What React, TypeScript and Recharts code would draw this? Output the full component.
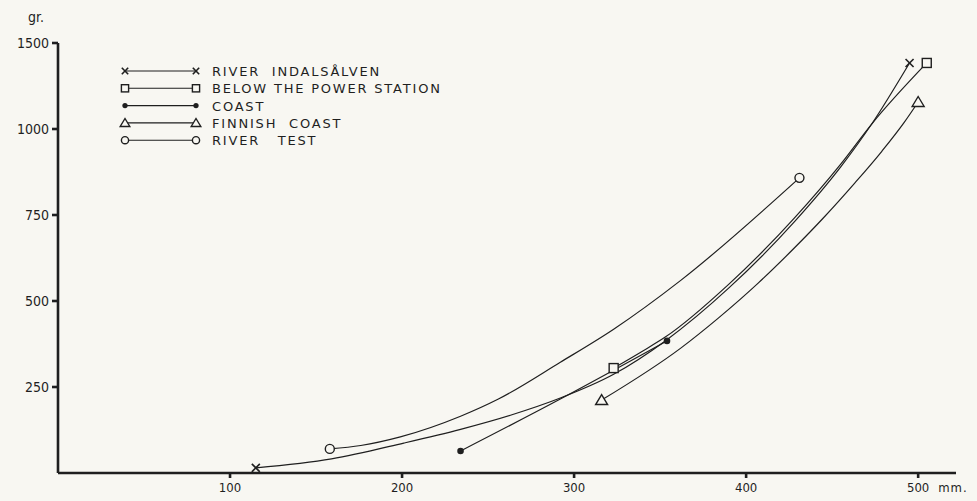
import { Line, LineChart, XAxis, YAxis } from 'recharts';

type Pt = { len: number; wt: number };
type MarkKind = 'cross' | 'square' | 'dot' | 'triangle' | 'circle';

// length in mm, weight in grams
const lengthTicks = [100, 200, 300, 400, 500];
const weightTicks = [250, 500, 750, 1000, 1500];

const riverIndalsalven: Pt[] = [
  { len: 115, wt: 15 },
  { len: 159, wt: 41 },
  { len: 201, wt: 87 },
  { len: 234, wt: 127 },
  { len: 263, wt: 168 },
  { len: 292, wt: 218 },
  { len: 323, wt: 287 },
  { len: 353, wt: 384 },
  { len: 390, wt: 538 },
  { len: 428, wt: 730 },
  { len: 455, wt: 890 },
  { len: 473, wt: 1029 },
  { len: 495, wt: 1384 },
];
const belowPowerStation: Pt[] = [
  { len: 323, wt: 305 },
  { len: 339, wt: 352 },
  { len: 353, wt: 395 },
  { len: 390, wt: 549 },
  { len: 428, wt: 741 },
  { len: 455, wt: 898 },
  { len: 473, wt: 1029 },
  { len: 505, wt: 1384 },
];
const coast: Pt[] = [
  { len: 234, wt: 64 },
  { len: 292, wt: 215 },
  { len: 354, wt: 384 },
];
const finnishCoast: Pt[] = [
  { len: 316, wt: 212 },
  { len: 362, wt: 363 },
  { len: 384, wt: 451 },
  { len: 407, wt: 552 },
  { len: 428, wt: 654 },
  { len: 445, wt: 742 },
  { len: 463, wt: 842 },
  { len: 479, wt: 936 },
  { len: 492, wt: 1040 },
  { len: 500, wt: 1157 },
];
const riverTest: Pt[] = [
  { len: 158, wt: 70 },
  { len: 176, wt: 80 },
  { len: 199, wt: 105 },
  { len: 234, wt: 165 },
  { len: 256, wt: 215 },
  { len: 292, wt: 322 },
  { len: 323, wt: 418 },
  { len: 362, wt: 560 },
  { len: 431, wt: 858 },
];

const series: { name: string; data: Pt[]; mark: MarkKind }[] = [
  { name: 'RIVER  INDALSÅLVEN', data: riverIndalsalven, mark: 'cross' },
  { name: 'BELOW THE POWER STATION', data: belowPowerStation, mark: 'square' },
  { name: 'COAST', data: coast, mark: 'dot' },
  { name: 'FINNISH  COAST', data: finnishCoast, mark: 'triangle' },
  { name: 'RIVER   TEST', data: riverTest, mark: 'circle' },
];

// the original axis is squeezed above 1000 g: 1000-1500 takes one 250-step
const toAxis = (g: number) => (g <= 1000 ? g : 1000 + (g - 1000) / 2);
const fromAxis = (v: number) => (v <= 1000 ? v : 1000 + (v - 1000) * 2);

const ink = '#1f1f1f';
const paper = '#f8f7f2';
const font = '"DejaVu Sans Condensed", "DejaVu Sans", sans-serif';

function Mark({ kind, x, y, s = 1 }: { kind: MarkKind; x: number; y: number; s?: number }) {
  switch (kind) {
    case 'cross':
      return (
        <g stroke={ink} strokeWidth={1.6}>
          <line x1={x - 4 * s} y1={y - 4 * s} x2={x + 4 * s} y2={y + 4 * s} />
          <line x1={x - 4 * s} y1={y + 4 * s} x2={x + 4 * s} y2={y - 4 * s} />
        </g>
      );
    case 'square':
      return <rect x={x - 4.5 * s} y={y - 4.5 * s} width={9 * s} height={9 * s} fill={paper} stroke={ink} strokeWidth={1.4} />;
    case 'dot':
      return <circle cx={x} cy={y} r={3.3 * s} fill={ink} />;
    case 'triangle':
      return (
        <path
          d={`M${x},${y - 5.5 * s} L${x + 6 * s},${y + 4.5 * s} L${x - 6 * s},${y + 4.5 * s} Z`}
          fill={paper}
          stroke={ink}
          strokeWidth={1.4}
        />
      );
    default:
      return <circle cx={x} cy={y} r={4.5 * s} fill={paper} stroke={ink} strokeWidth={1.4} />;
  }
}

function XTick(props: any) {
  const { x, y, payload } = props;
  return (
    <g>
      <text x={x} y={y + 12} textAnchor="middle" fontSize={13} fontFamily={font} fill={ink}>
        {payload.value}
      </text>
      {payload.value === 500 && (
        <text x={x + 20} y={y + 12} fontSize={13} fontFamily={font} fill={ink} letterSpacing={1}>
          mm.
        </text>
      )}
    </g>
  );
}

function LegendBox() {
  return (
    <svg width={380} height={100} style={{ position: 'absolute', left: 110, top: 60 }}>
      {series.map((s, i) => {
        const y = 11 + i * 17.3;
        return (
          <g key={s.name}>
            <line x1={15} y1={y} x2={86} y2={y} stroke={ink} strokeWidth={1.1} />
            <Mark kind={s.mark} x={15} y={y} s={0.8} />
            <Mark kind={s.mark} x={86} y={y} s={0.8} />
            <text x={102} y={y + 5} fontSize={13} fontFamily='"DejaVu Sans", sans-serif' fill={ink} letterSpacing={1.8} style={{ whiteSpace: 'pre' }}>
              {s.name}
            </text>
          </g>
        );
      })}
    </svg>
  );
}

export default function App() {
  return (
    <div style={{ position: 'absolute', left: 0, top: 0, width: 977, height: 501, background: paper }}>
      <LineChart width={977} height={501} margin={{ top: 43, right: 21, bottom: 0, left: 0 }}>
        <XAxis
          dataKey="len"
          type="number"
          domain={[0, 522]}
          ticks={lengthTicks}
          allowDataOverflow
          height={28}
          axisLine={{ stroke: ink, strokeWidth: 2.6 }}
          tickLine={{ stroke: ink, strokeWidth: 2.6 }}
          tickSize={5}
          tick={<XTick />}
        />
        <YAxis
          type="number"
          domain={[0, 1250]}
          ticks={weightTicks.map(toAxis)}
          allowDataOverflow
          width={58}
          axisLine={{ stroke: ink, strokeWidth: 2.6 }}
          tickLine={{ stroke: ink, strokeWidth: 2.6 }}
          tickSize={6}
          tickMargin={3}
          tickFormatter={(v: number) => String(fromAxis(v))}
          tick={{ fontSize: 14, fontFamily: font, fill: ink }}
        />
        {series.map((s) => (
          <Line
            key={s.name}
            name={s.name}
            data={s.data}
            dataKey={(d: Pt) => toAxis(d.wt)}
            type="monotone"
            stroke={ink}
            strokeWidth={1.2}
            isAnimationActive={false}
            dot={(p: any) => {
              const last = s.data.length - 1;
              if (p.index !== 0 && p.index !== last) return <g key={`n-${p.index}`} />;
              return (
                <g key={`m-${p.index}`}>
                  <Mark kind={s.mark} x={p.cx} y={p.cy} />
                </g>
              );
            }}
            activeDot={false}
          />
        ))}
      </LineChart>
      <LegendBox />
      <svg width={60} height={30} style={{ position: 'absolute', left: 0, top: 0 }}>
        <text x={28} y={22} fontSize={14} fontFamily={font} fill={ink}>
          gr.
        </text>
      </svg>
    </div>
  );
}
